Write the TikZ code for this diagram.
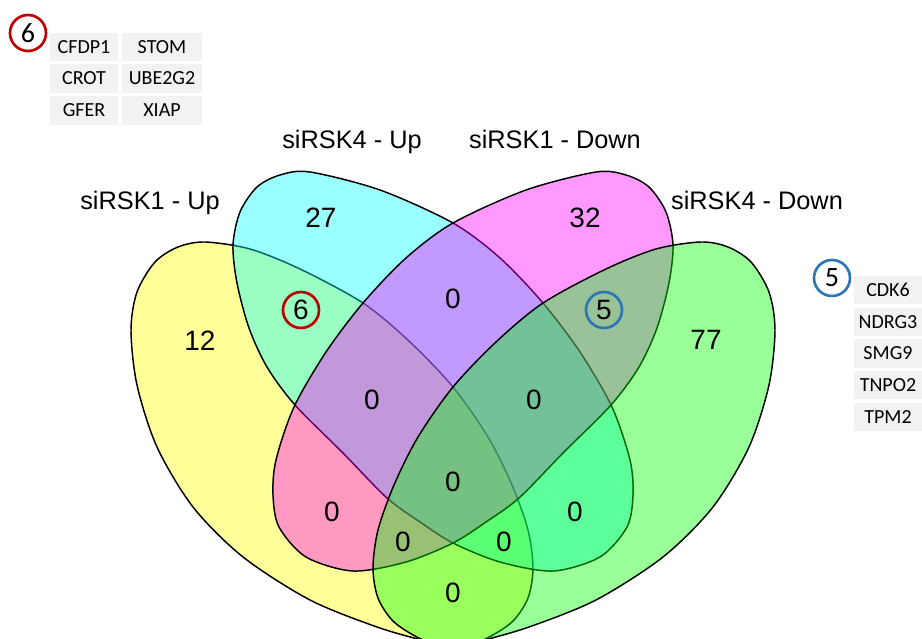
\documentclass[tikz,border=0pt]{standalone}
\usepackage{fontspec}
\setmainfont{Liberation Sans}
\newfontfamily\calibrifont{Carlito}
\definecolor{cellgray}{HTML}{F2F2F2}
\definecolor{ringred}{HTML}{C00000}
\definecolor{ringblue}{HTML}{2E75B6}
\definecolor{setyellow}{RGB}{255,255,0}
\definecolor{setcyan}{RGB}{0,255,255}
\definecolor{setmagenta}{RGB}{255,0,255}
\definecolor{setgreen}{RGB}{0,255,0}
\begin{document}
\begin{tikzpicture}[x=0.75pt,y=-0.75pt,
  setshape/.style={draw=black, line width=1.1pt, fill opacity=0.4},
  setlabel/.style={font=\fontsize{19}{22}\selectfont, anchor=base, inner sep=0pt},
  count/.style={font=\fontsize{21}{24}\selectfont, inner sep=0pt},
  ring/.style={circle, line width=2pt, minimum size=27pt, inner sep=0pt},
  genecell/.style={fill=cellgray, inner sep=0pt, minimum height=21.5pt,
    font=\calibrifont\fontsize{15}{18}\selectfont},
  narrowcell/.style={genecell, minimum width=51pt},
  widecell/.style={genecell, minimum width=60pt},
]
\useasboundingbox (0,0) rectangle (922,639);

% the four sets, drawn in order so later fills tint earlier outlines
\begin{scope}
\clip (0,0) rectangle (922,639);
\filldraw[setshape, fill=setyellow] plot[smooth cycle] coordinates {
  (205,242) (250,249) (300,269) (363,303) (410,342) (453,387) (488,437)
  (512,485) (528,530) (533,568) (528,598) (512,622) (483,640) (452,648)
  (425,641) (377,627) (310,600) (243,557) (193,507) (157,447) (137,385)
  (131,330) (137,292) (155,262) (178,247)};
\filldraw[setshape, fill=setcyan] plot[smooth cycle] coordinates {
  (310,172) (380,190) (453,223) (500,258) (543,303) (580,352) (612,407)
  (630,460) (633,495) (627,527) (600,557) (553,571) (500,562) (453,543)
  (420,522) (387,498) (343,453) (295,405) (267,367) (249,328) (237,283)
  (233,245) (240,212) (257,187) (280,175)};
\filldraw[setshape, fill=setmagenta] plot[smooth cycle] coordinates {
  (596,172) (526,190) (453,223) (406,258) (363,303) (326,352) (294,407)
  (276,460) (273,495) (279,527) (306,557) (353,571) (406,562) (453,543)
  (486,522) (519,498) (563,453) (611,405) (639,367) (657,328) (669,283)
  (673,245) (666,212) (649,187) (626,175)};
\filldraw[setshape, fill=setgreen] plot[smooth cycle] coordinates {
  (701,242) (656,249) (606,269) (543,303) (496,342) (453,387) (418,437)
  (394,485) (378,530) (373,568) (378,598) (394,622) (423,640) (454,648)
  (481,641) (529,627) (596,600) (663,557) (713,507) (749,447) (769,385)
  (775,330) (769,292) (751,262) (728,247)};
\end{scope}

% set names
\node[setlabel] (lab1) at (150,209) {siRSK1 - Up};
\node[setlabel] (lab2) at (352,148) {siRSK4 - Up};
\node[setlabel] (lab3) at (555,148) {siRSK1 - Down};
\node[setlabel] (lab4) at (757,209) {siRSK4 - Down};

% region counts
\node[count] (nY)    at (200,341) {12};
\node[count] (nC)    at (321,218) {27};
\node[count] (nM)    at (585,218) {32};
\node[count] (nG)    at (706,340) {77};
\node[count] (nCM)   at (453,299) {0};
\node[count] (nYCM)  at (372,400) {0};
\node[count] (nCMG)  at (534,400) {0};
\node[count] (nAll)  at (453,482) {0};
\node[count] (nYM)   at (332,512) {0};
\node[count] (nCG)   at (575,512) {0};
\node[count] (nYMG)  at (403,542) {0};
\node[count] (nYCG)  at (504,542) {0};
\node[count] (nYG)   at (453,593) {0};
\node[count, ring, draw=ringred]  (nYC) at (301,310) {6};
\node[count, ring, draw=ringblue] (nMG) at (604,310) {5};

% genes shared by siRSK1 - Up and siRSK4 - Up
\node[ring, draw=ringred, font=\calibrifont\fontsize{21}{24}\selectfont] (keyYC) at (28,33) {6};
\node[narrowcell] (gA) at (84,47)  {CFDP1};
\node[widecell]   (gB) at (162,47) {STOM};
\node[narrowcell] (gC) at (84,78.5)  {CROT};
\node[widecell]   (gD) at (162,78.5) {UBE2G2};
\node[narrowcell] (gE) at (84,110.5)  {GFER};
\node[widecell]   (gF) at (162,110.5) {XIAP};

% genes shared by siRSK1 - Down and siRSK4 - Down
\node[ring, draw=ringblue, font=\calibrifont\fontsize{21}{24}\selectfont] (keyMG) at (832,278) {5};
\node[narrowcell] (hA) at (888,290)   {CDK6};
\node[narrowcell] (hB) at (888,322)   {NDRG3};
\node[narrowcell] (hC) at (888,353.5) {SMG9};
\node[narrowcell] (hD) at (888,385)   {TNPO2};
\node[narrowcell] (hE) at (888,417)   {TPM2};
\end{tikzpicture}
\end{document}
